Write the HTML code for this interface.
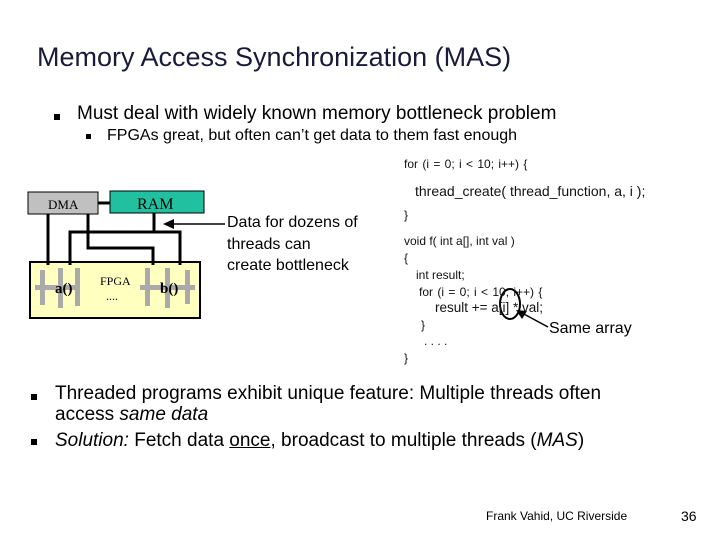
<!DOCTYPE html>
<html><head><style>
body{margin:0;width:720px;height:540px;background:#fff;position:relative;overflow:hidden;font-family:"Liberation Sans",sans-serif;color:#000}
.a{position:absolute;white-space:nowrap}
.b{position:absolute;width:6px;height:6px;background:#000}
.c{font-size:12px;color:#111}
</style></head><body>
<div class="a" style="left:37px;top:42px;font-size:27px;color:#1a1a3a">Memory Access Synchronization (MAS)</div>
<div class="b" style="left:54px;top:114px"></div>
<div class="a" style="left:77px;top:103px;font-size:19px">Must deal with widely known memory bottleneck problem</div>
<div class="b" style="left:86px;top:134px;width:5px;height:5px"></div>
<div class="a" style="left:107px;top:127px;font-size:16px">FPGAs great, but often can’t get data to them fast enough</div>

<svg class="a" style="left:0;top:0" width="720" height="540">
<rect x="30" y="262" width="170" height="56" fill="#ffffc0" stroke="#000" stroke-width="2"/>
<rect x="28" y="192" width="70" height="22" fill="#c0c0c0" stroke="#000"/>
<rect x="110" y="191" width="94" height="22" fill="#20c0a0" stroke="#000"/>
<line x1="98" y1="203" x2="110" y2="203" stroke="#000" stroke-width="3"/>
<g fill="none" stroke="#000" stroke-width="3">
<path d="M48 214V265"/>
<path d="M88 214V248H153V265"/>
<path d="M154 213V232H70V265M154 232H180V265"/>
</g>
<line x1="225" y1="224" x2="170" y2="224" stroke="#000" stroke-width="1.5"/>
<polygon points="163,224 174,219 174,229" fill="#000"/>
<g fill="#aaa">
<rect x="40" y="270" width="5" height="35"/><rect x="58" y="268" width="5" height="40"/><rect x="75" y="268" width="5" height="38"/>
<rect x="145" y="268" width="5" height="38"/><rect x="165" y="268" width="5" height="40"/><rect x="185" y="270" width="5" height="34"/>
<rect x="35" y="285" width="40" height="5"/><rect x="140" y="285" width="55" height="5"/>
</g>
<text x="55" y="293" font-family="Liberation Serif" font-size="15" font-weight="bold">a()</text>
<text x="160" y="293" font-family="Liberation Serif" font-size="15" font-weight="bold">b()</text>
<text x="100" y="285" font-family="Liberation Serif" font-size="12">FPGA</text>
<text x="106" y="300" font-family="Liberation Serif" font-size="12">....</text>
<text x="48" y="209" font-family="Liberation Serif" font-size="13">DMA</text>
<text x="137" y="209" font-family="Liberation Serif" font-size="16">RAM</text>
<ellipse cx="510" cy="304" rx="10" ry="15" fill="none" stroke="#000" stroke-width="2"/>
<line x1="548" y1="327" x2="522" y2="313" stroke="#000" stroke-width="1.5"/>
<polygon points="516,310 527,311 522,319" fill="#000"/>
</svg>

<div class="a" style="left:227px;top:212px;font-size:16px;line-height:21.5px">Data for dozens of<br>threads can<br>create bottleneck</div>
<div class="a c" style="left:404px;top:157px;word-spacing:1px">for (i = 0; i &lt; 10; i++) {</div>
<div class="a c" style="left:415px;top:183px;font-size:14px">thread_create( thread_function, a, i );</div>
<div class="a c" style="left:404px;top:208px">}</div>
<div class="a c" style="left:404px;top:234px">void f( int a[], int val )</div>
<div class="a c" style="left:404px;top:251px">{</div>
<div class="a c" style="left:416px;top:268px">int result;</div>
<div class="a c" style="left:419px;top:285px;word-spacing:1px">for (i = 0; i &lt; 10; i++) {</div>
<div class="a c" style="left:435px;top:300px;font-size:13.5px">result += a[i] * val;</div>
<div class="a c" style="left:421px;top:318px">}</div>
<div class="a c" style="left:424px;top:334px">. . . .</div>
<div class="a c" style="left:404px;top:351px">}</div>
<div class="a" style="left:549px;top:320px;font-size:16px">Same array</div>

<div class="b" style="left:31px;top:394px"></div>
<div class="a" style="left:55px;top:383px;font-size:19px;line-height:21px">Threaded programs exhibit unique feature: Multiple threads often<br>access <i>same data</i></div>
<div class="b" style="left:31px;top:439px"></div>
<div class="a" style="left:55px;top:430px;font-size:19px"><i>Solution:</i> Fetch data <u>once</u>, broadcast to multiple threads (<i>MAS</i>)</div>
<div class="a" style="left:486px;top:509px;font-size:12px">Frank Vahid, UC Riverside</div>
<div class="a" style="left:681px;top:508px;font-size:14px">36</div>
</body></html>
